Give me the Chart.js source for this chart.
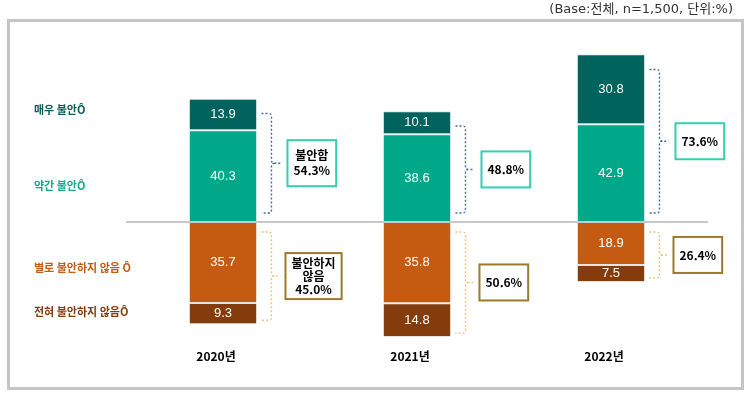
<!DOCTYPE html>
<html lang="ko">

<head>
  <meta charset="UTF-8" />
  <title>불안감 추이</title>
  <script src="https://cdn.jsdelivr.net/npm/chart.js"></script>
  <style>
    html, body { margin: 0; padding: 0; background: #fff; }
    #wrap { width: 750px; height: 395px; position: relative; }
  </style>
</head>

<body>
  <div id="wrap"><canvas id="grafico"></canvas></div>

  <script>
    // 데이터
    var anos = ["2020년", "2021년", "2022년"];
    var muitoAnsioso = [13.9, 10.1, 30.8];      // 매우 불안함
    var poucoAnsioso = [40.3, 38.6, 42.9];      // 약간 불안함
    var poucoNao = [35.7, 35.8, 18.9];          // 별로 불안하지 않음
    var nadaNao = [9.3, 14.8, 7.5];             // 전혀 불안하지 않음
    var totalAnsioso = [54.3, 48.8, 73.6];
    var totalNao = [45.0, 50.6, 26.4];
    var rotulosSerie = ["매우 불안Ô", "약간 불안Ô", "별로 불안하지 않음 Ô", "전혀 불안하지 않음Ô"];
    var titulo = "(Base:전체, n=1,500, 단위:%)";

    var cores = ["#00635D", "#00A88A", "#C55A11", "#843C0C"];

    function neg(arr) {
      return arr.map(function (v) { return -v; });
    }

    var fonte = "'Liberation Sans', Arial, sans-serif";
    var fonteKr = "'Noto Sans CJK KR', sans-serif";

    // 배경, 테두리, 기준선, 괄호, 박스
    var extras = {
      id: "extras",
      beforeDraw: function (chart) {
        var ctx = chart.ctx;
        ctx.save();
        ctx.fillStyle = "#fff";
        ctx.fillRect(0, 0, chart.width, chart.height);
        ctx.strokeStyle = "#c4c4c4";
        ctx.lineWidth = 3;
        ctx.strokeRect(8.5, 20.5, 734, 368);
        ctx.fillStyle = "#333";
        ctx.font = "13px 'DejaVu Sans', 'Noto Sans CJK KR', sans-serif";
        ctx.textAlign = "right";
        ctx.textBaseline = "middle";
        ctx.fillText(titulo, 733, 10);
        ctx.restore();
      },
      afterDatasetsDraw: function (chart) {
        var ctx = chart.ctx;
        var area = chart.chartArea;
        var y = chart.scales.y;
        var x = chart.scales.x;
        var y0 = y.getPixelForValue(0);

        ctx.save();
        // 기준선
        ctx.strokeStyle = "#c8c8c8";
        ctx.lineWidth = 2;
        ctx.beginPath();
        ctx.moveTo(area.left, y0);
        ctx.lineTo(area.right, y0);
        ctx.stroke();

        // 범례 (왼쪽)
        var ys = [110, 186, 268, 312];
        var coresTxt = ["#0B5B57", "#12A98A", "#C55A11", "#843C0C"];
        ctx.font = "bold 11px " + fonteKr;
        ctx.textAlign = "left";
        ctx.textBaseline = "middle";
        for (var k = 0; k < rotulosSerie.length; k++) {
          ctx.fillStyle = coresTxt[k];
          ctx.fillText(rotulosSerie[k], 34, ys[k]);
        }

        // 연도
        ctx.fillStyle = "#000";
        ctx.font = "bold 12px " + fonteKr;
        ctx.textAlign = "center";
        for (var i = 0; i < anos.length; i++) {
          ctx.fillText(anos[i], x.getPixelForValue(i) - 7, 356);
        }

        var meta = chart.getDatasetMeta(0);
        for (var i = 0; i < anos.length; i++) {
          var bar = meta.data[i];
          var bx = bar.x + bar.width / 2 + 5;

          // 불안함 괄호
          var topo = y.getPixelForValue(totalAnsioso[i]) + 15;
          var base = y0 - 9;
          chave(ctx, bx, topo, base, "#4468B4");
          var linhas = i == 0 ? ["불안함", totalAnsioso[i].toFixed(1) + "%"] : [totalAnsioso[i].toFixed(1) + "%"];
          caixa(ctx, bx + 26, (topo + base) / 2, linhas, "#33CFB0");

          // 불안하지 않음 괄호
          var topo2 = y0 + 10;
          var base2 = y.getPixelForValue(-totalNao[i]) - 4;
          chave(ctx, bx, topo2, base2, "#EBC27E");
          var linhas2 = i == 0 ? ["불안하지", "않음", totalNao[i].toFixed(1) + "%"] : [totalNao[i].toFixed(1) + "%"];
          caixa(ctx, bx + 24, (topo2 + base2) / 2, linhas2, "#9B7B2A");
        }
        ctx.restore();
      }
    };

    function chave(ctx, x, y1, y2, cor) {
      var meio = (y1 + y2) / 2;
      ctx.save();
      ctx.strokeStyle = cor;
      ctx.lineWidth = 1.4;
      ctx.setLineDash([2, 2]);
      ctx.beginPath();
      ctx.moveTo(x, y1);
      ctx.lineTo(x + 7, y1);
      ctx.quadraticCurveTo(x + 10, y1, x + 10, y1 + 3);
      ctx.lineTo(x + 10, meio - 3);
      ctx.quadraticCurveTo(x + 10, meio, x + 13, meio);
      ctx.lineTo(x + 19, meio);
      ctx.moveTo(x + 13, meio);
      ctx.quadraticCurveTo(x + 10, meio, x + 10, meio + 3);
      ctx.lineTo(x + 10, y2 - 3);
      ctx.quadraticCurveTo(x + 10, y2, x + 7, y2);
      ctx.lineTo(x, y2);
      ctx.stroke();
      ctx.restore();
    }

    function caixa(ctx, x, meio, linhas, cor) {
      ctx.save();
      ctx.font = "bold 12px " + fonteKr;
      var larg = 0;
      for (var i = 0; i < linhas.length; i++) {
        larg = Math.max(larg, ctx.measureText(linhas[i]).width);
      }
      var w = Math.max(43, larg + 12);
      var alt = linhas.length == 1 ? 36 : 46;
      var passo = linhas.length == 2 ? 15 : 13;
      var topo = meio - alt / 2;
      ctx.fillStyle = "#fff";
      ctx.fillRect(x, topo, w, alt);
      ctx.strokeStyle = cor;
      ctx.lineWidth = 2;
      ctx.strokeRect(x, topo, w, alt);
      ctx.fillStyle = "#000";
      ctx.textAlign = "center";
      ctx.textBaseline = "middle";
      for (var i = 0; i < linhas.length; i++) {
        ctx.fillText(linhas[i], x + w / 2, meio + (i - (linhas.length - 1) / 2) * passo);
      }
      ctx.restore();
    }

    // 막대 안 숫자
    var valores = {
      id: "valores",
      afterDatasetsDraw: function (chart) {
        var ctx = chart.ctx;
        ctx.save();
        ctx.fillStyle = "#fff";
        ctx.font = "13px " + fonte;
        ctx.textAlign = "center";
        ctx.textBaseline = "middle";
        chart.data.datasets.forEach(function (ds, d) {
          var meta = chart.getDatasetMeta(d);
          meta.data.forEach(function (bar, i) {
            var v = Math.abs(ds.data[i]);
            ctx.fillText(v.toFixed(1), bar.x, (bar.y + bar.base) / 2);
          });
        });
        ctx.restore();
      }
    };

    function serie(label, dados, cor) {
      return {
        label: label,
        data: dados,
        backgroundColor: cor,
        borderColor: "#dfe6e4",
        borderWidth: { top: 1, bottom: 1, left: 0, right: 0 },
        borderSkipped: false,
        stack: "s",
        categoryPercentage: 1,
        barPercentage: 0.345
      };
    }

    new Chart(grafico, {
      type: "bar",
      data: {
        labels: anos,
        datasets: [
          serie(rotulosSerie[1], poucoAnsioso, cores[1]),
          serie(rotulosSerie[0], muitoAnsioso, cores[0]),
          serie(rotulosSerie[2], neg(poucoNao), cores[2]),
          serie(rotulosSerie[3], neg(nadaNao), cores[3])
        ]
      },
      options: {
        responsive: true,
        maintainAspectRatio: false,
        animation: false,
        layout: { padding: { left: 126, right: 42, top: 40, bottom: 48 } },
        plugins: {
          legend: { display: false },
          tooltip: { enabled: false }
        },
        scales: {
          x: { display: false, stacked: true, offset: true },
          y: { display: false, stacked: true, min: -55, max: 80 }
        }
      },
      plugins: [extras, valores]
    });
  </script>
</body>

</html>
